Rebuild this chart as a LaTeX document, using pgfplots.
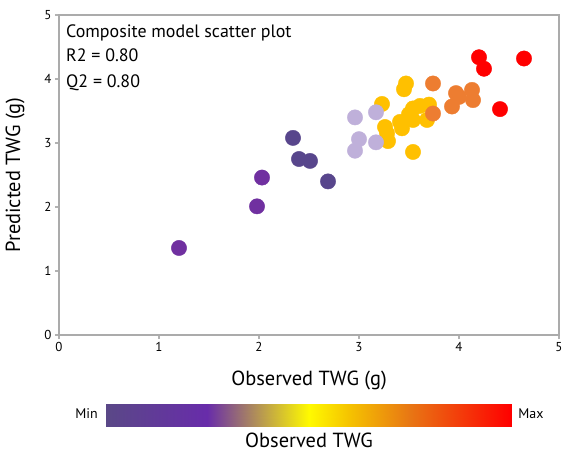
\documentclass[border=0pt]{standalone}
\usepackage{pgfplots}
\pgfplotsset{compat=1.18}
\usepackage{fontspec}
\setmainfont{PT Sans}
\definecolor{cPurple}{RGB}{112,48,160}
\definecolor{cDark}{RGB}{88,70,140}
\definecolor{cLav}{RGB}{191,176,218}
\definecolor{cYel}{RGB}{255,192,0}
\definecolor{cOra}{RGB}{237,125,49}
\definecolor{cRed}{RGB}{255,0,0}
\pgfplotsset{colormap={twg}{rgb255(0cm)=(90,72,135); rgb255(2.5cm)=(104,44,170); rgb255(5cm)=(255,250,0); rgb255(6cm)=(245,195,0); rgb255(7.5cm)=(232,118,20); rgb255(10cm)=(255,0,0)}}
\begin{document}
\begin{tikzpicture}
\begin{axis}[name=main, scale only axis, width=500bp, height=320bp,
  xmin=0, xmax=5, ymin=0, ymax=5, xtick={0,1,2,3,4,5}, ytick={0,1,2,3,4,5},
  tick align=outside, xtick pos=left, ytick pos=left,
  major tick length=4bp, tick style={color=black!30, line width=1.2pt},
  axis line style={draw=black!33, line width=1.6bp},
  ticklabel style={font=\fontsize{13}{15}\selectfont},
  /pgf/number format/assume math mode=true,
  xlabel={Observed TWG (g)}, ylabel={Predicted TWG (g)},
  label style={font=\fontsize{20.5}{24}\selectfont},
  xlabel style={at={(axis description cs:0.5,-0.1406)}, anchor=center},
  ylabel style={at={(axis description cs:-0.088,0.5)}, anchor=center},
  clip=false,
  every axis plot/.append style={only marks, mark=*, mark size=7.7pt},
]
\addplot[color=cPurple] coordinates {(1.20,1.36) (1.98,2.01) (2.03,2.46)};
\addplot[color=cDark] coordinates {(2.34,3.08) (2.40,2.75) (2.51,2.72) (2.69,2.40)};
\addplot[color=cYel] coordinates {(3.23,3.61) (3.47,3.93) (3.45,3.84) (3.26,3.25) (3.28,3.15) (3.29,3.03) (3.41,3.33) (3.43,3.23) (3.50,3.45) (3.54,3.54) (3.61,3.58) (3.70,3.60) (3.54,3.36) (3.68,3.36) (3.54,2.86)};
\addplot[color=cLav] coordinates {(2.96,3.40) (3.17,3.48) (3.00,3.06) (2.96,2.88) (3.17,3.01)};
\addplot[color=cOra] coordinates {(3.74,3.93) (3.97,3.78) (4.00,3.72) (4.13,3.83) (4.14,3.67) (3.93,3.57) (3.74,3.46)};
\addplot[color=cRed] coordinates {(4.20,4.34) (4.25,4.16) (4.65,4.32) (4.41,3.53)};
\node[anchor=base west, inner sep=0pt, font=\fontsize{18}{20}\selectfont] at (axis cs:0.07,4.656) {Composite model scatter plot};
\node[anchor=base west, inner sep=0pt, font=\fontsize{18}{20}\selectfont] at (axis cs:0.07,4.266) {R2 = 0.80};
\node[anchor=base west, inner sep=0pt, font=\fontsize{18}{20}\selectfont] at (axis cs:0.07,3.875) {Q2 = 0.80};
\node[font=\fontsize{14}{16}\selectfont] at (axis cs:0.275,-1.234) {Min};
\node[font=\fontsize{14}{16}\selectfont] at (axis cs:4.72,-1.234) {Max};
\node[font=\fontsize{20.5}{24}\selectfont] at (axis cs:2.5,-1.64) {Observed TWG};
\end{axis}
\begin{axis}[name=cb, at={(main.south west)}, anchor=north west, xshift=47bp, yshift=-69bp,
  scale only axis, width=405bp, height=22bp, hide axis,
  xmin=0, xmax=1, ymin=0, ymax=1, view={0}{90},
  colormap name=twg, point meta min=0, point meta max=1]
\addplot3[surf, shader=interp, point meta=x] coordinates {
(0,0,0) (0.25,0,0) (0.5,0,0) (0.6,0,0) (0.75,0,0) (1,0,0)

(0,1,0) (0.25,1,0) (0.5,1,0) (0.6,1,0) (0.75,1,0) (1,1,0)
};
\end{axis}
\path ([xshift=-59bp,yshift=-118bp]main.south west) rectangle ([xshift=8bp,yshift=15bp]main.north east);
\end{tikzpicture}
\end{document}
